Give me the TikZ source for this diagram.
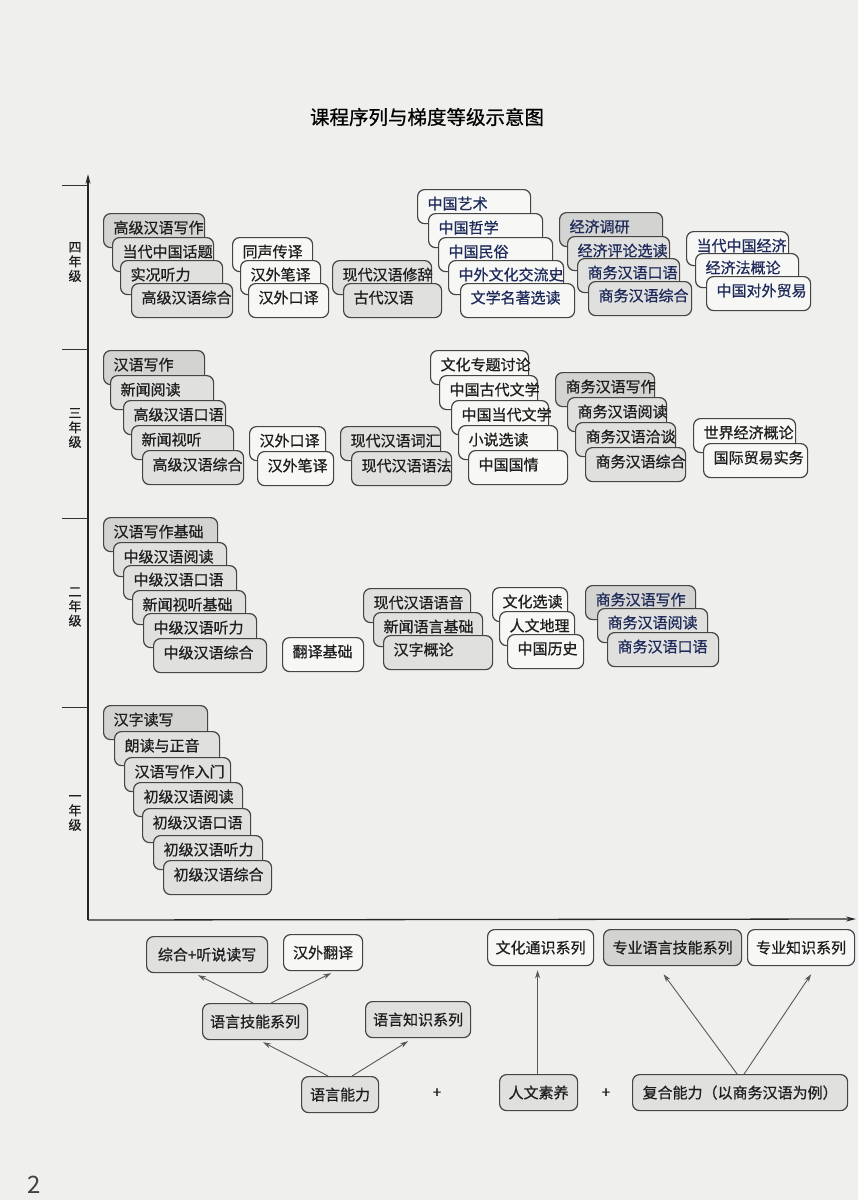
\documentclass[tikz,border=0pt]{standalone}
\usepackage{fontspec}
\setmainfont{Noto Sans CJK SC}
\newfontfamily\cjkbx[FakeBold=0.7]{Noto Sans CJK SC}
\usetikzlibrary{arrows.meta,calc}
\definecolor{bg}{HTML}{EFEFED}
\definecolor{gA}{HTML}{D3D3D1}
\definecolor{gB}{HTML}{E0E0DE}
\definecolor{wC}{HTML}{F7F7F5}
\definecolor{bd}{HTML}{454545}
\definecolor{tx}{HTML}{1E1E1E}
\definecolor{nv}{HTML}{1E2A5A}
\newcommand\bxfont{\cjkbx\fontsize{15pt}{18pt}\selectfont}
\newlength\bxtw
\newlength\bxpad
\newcommand\bxnode[6]{%
  \settowidth\bxtw{\bxfont #6}%
  \setlength\bxpad{\dimexpr(#4pt-\bxtw)/2\relax}%
  \ifdim\bxpad>10pt\relax\setlength\bxpad{10pt}\fi
  \node[course,#5,anchor=north west] (#1) at (#2,#3) {\hbox to #4pt{\hspace*{\bxpad}#6\hss}};%
}
\tikzset{
  course/.style={draw=bd, line width=1.2pt, rounded corners=7pt, inner xsep=0pt, inner ysep=0pt, minimum height=34pt, text height=10pt, text depth=4.6pt, font=\bxfont, text=tx},
  lgbox/.style={draw=bd, line width=1.2pt, rounded corners=7pt, inner xsep=0pt, inner ysep=0pt, minimum height=36pt, text height=14pt, text depth=2.6pt, font=\bxfont, text=tx, align=center, anchor=north west},
  fa/.style={fill=gA}, fb/.style={fill=gB}, fw/.style={fill=wC}, nvt/.style={text=nv},
  arr/.style={draw=black!65, line width=0.9pt, -{Stealth[length=8pt,width=5pt]}},
  axisline/.style={draw=black!85, line width=1.3pt, -{Stealth[length=10pt,width=5pt]}},
  sepline/.style={draw=black!80, line width=1pt},
  gradelbl/.style={font=\cjkbx\fontsize{13pt}{14.5pt}\selectfont, text=tx, align=center},
}
\begin{document}
\begin{tikzpicture}[x=1pt,y=-1pt]
\fill[bg] (0,0) rectangle (858,1200);
\useasboundingbox (0,0) rectangle (858,1200);

\node[font=\cjkbx\fontsize{19.5pt}{24pt}\selectfont, text=black] (title) at (427,117) {课程序列与梯度等级示意图};

% axes
\coordinate (origin) at (88,920);
\coordinate (ytop) at (88,174);
\coordinate (xend) at (856,919);
\draw[axisline] (origin) -- (ytop);
\draw[axisline] (origin) -- (xend);
\foreach \yy/\nm in {185/s1,349/s2,518/s3,707/s4}{
  \coordinate (\nm a) at (62,\yy);
  \coordinate (\nm b) at (88,\yy);
  \draw[sepline] (\nm a) -- (\nm b);
}
\node[gradelbl] (gr4) at (75,262) {四\\年\\级};
\node[gradelbl] (gr3) at (75,428) {三\\年\\级};
\node[gradelbl] (gr2) at (75,607) {二\\年\\级};
\node[gradelbl] (gr1) at (75,813) {一\\年\\级};

% ---------- grade 4
\bxnode{ga1}{103}{213}{101}{fa}{高级汉语写作}
\bxnode{ga2}{112}{237}{101}{fb}{当代中国话题}
\bxnode{ga3}{120}{260}{102}{fb}{实况听力}
\bxnode{ga4}{131}{283}{101}{fb}{高级汉语综合}
\bxnode{gb1}{232}{237}{80}{fw}{同声传译}
\bxnode{gb2}{240}{260}{80}{fw}{汉外笔译}
\bxnode{gb3}{248}{283}{80}{fw}{汉外口译}
\bxnode{gc1}{332}{260}{99}{fb}{现代汉语修辞}
\bxnode{gc2}{343}{283}{98}{fb}{古代汉语}
\bxnode{gd1}{417}{189}{113}{fw,nvt}{中国艺术}
\bxnode{gd2}{428}{213}{114}{fw,nvt}{中国哲学}
\bxnode{gd3}{438}{237}{114}{fw,nvt}{中国民俗}
\bxnode{gd4}{448}{260}{115}{fw,nvt}{中外文化交流史}
\bxnode{gd5}{460}{283}{114}{fw,nvt}{文学名著选读}
\bxnode{ge1}{559}{212}{103}{fa,nvt}{经济调研}
\bxnode{ge2}{567}{236}{102}{fb,nvt}{经济评论选读}
\bxnode{ge3}{577}{258}{102}{fb,nvt}{商务汉语口语}
\bxnode{ge4}{588}{281}{103}{fb,nvt}{商务汉语综合}
\bxnode{gf1}{686}{231}{102}{fw,nvt}{当代中国经济}
\bxnode{gf2}{695}{253}{103}{fw,nvt}{经济法概论}
\bxnode{gf3}{706}{276}{104}{fw,nvt}{中国对外贸易}

% ---------- grade 3
\bxnode{ha1}{103}{350}{101}{fa}{汉语写作}
\bxnode{ha2}{110}{375}{103}{fb}{新闻阅读}
\bxnode{ha3}{123}{400}{102}{fb}{高级汉语口语}
\bxnode{ha4}{131}{425}{102}{fb}{新闻视听}
\bxnode{ha5}{142}{450}{101}{fb}{高级汉语综合}
\bxnode{hb1}{249}{426}{76}{fw}{汉外口译}
\bxnode{hb2}{257}{451}{76}{fw}{汉外笔译}
\bxnode{hc1}{340}{426}{100}{fb}{现代汉语词汇}
\bxnode{hc2}{351}{451}{100}{fb}{现代汉语语法}
\bxnode{hd1}{430}{350}{98}{fw}{文化专题讨论}
\bxnode{hd2}{439}{375}{98}{fw}{中国古代文学}
\bxnode{hd3}{451}{400}{97}{fw}{中国当代文学}
\bxnode{hd4}{458}{425}{99}{fw}{小说选读}
\bxnode{hd5}{468}{450}{99}{fw}{中国国情}
\bxnode{he1}{555}{372}{99}{fa}{商务汉语写作}
\bxnode{he2}{567}{397}{99}{fb}{商务汉语阅读}
\bxnode{he3}{575}{422}{100}{fb}{商务汉语洽谈}
\bxnode{he4}{585}{447}{100}{fb}{商务汉语综合}
\bxnode{hf1}{693}{418}{102}{fw}{世界经济概论}
\bxnode{hf2}{703}{443}{104}{fw}{国际贸易实务}

% ---------- grade 2
\bxnode{ia1}{103}{517}{114}{fa}{汉语写作基础}
\bxnode{ia2}{113}{542}{113}{fb}{中级汉语阅读}
\bxnode{ia3}{123}{565}{113}{fb}{中级汉语口语}
\bxnode{ia4}{132}{590}{113}{fb}{新闻视听基础}
\bxnode{ia5}{143}{613}{113}{fb}{中级汉语听力}
\bxnode{ia6}{153}{638}{113}{fb}{中级汉语综合}
\bxnode{ib1}{282}{637}{81}{fw}{翻译基础}
\bxnode{ic1}{363}{588}{107}{fb}{现代汉语语音}
\bxnode{ic2}{373}{612}{109}{fb}{新闻语言基础}
\bxnode{ic3}{383}{635}{109}{fb}{汉字概论}
\bxnode{id1}{492}{587}{75}{fw}{文化选读}
\bxnode{id2}{499}{611}{75}{fw}{人文地理}
\bxnode{id3}{507}{634}{76}{fw}{中国历史}
\bxnode{ie1}{585}{585}{110}{fa,nvt}{商务汉语写作}
\bxnode{ie2}{597}{608}{110}{fb,nvt}{商务汉语阅读}
\bxnode{ie3}{607}{632}{111}{fb,nvt}{商务汉语口语}

% ---------- grade 1
\bxnode{ja1}{103}{705}{104}{fa}{汉字读写}
\bxnode{ja2}{114}{731}{105}{fb}{朗读与正音}
\bxnode{ja3}{124}{757}{106}{fb}{汉语写作入门}
\bxnode{ja4}{133}{782}{109}{fb}{初级汉语阅读}
\bxnode{ja5}{142}{808}{108}{fb}{初级汉语口语}
\bxnode{ja6}{153}{835}{109}{fb}{初级汉语听力}
\bxnode{ja7}{163}{860}{108}{fb}{初级汉语综合}

% ---------- legend
\node[lgbox,fb,minimum width=121pt] (lg1) at (146,936) {综合+听说读写};
\node[lgbox,fw,minimum width=79pt] (lg2) at (283,934) {汉外翻译};
\node[lgbox,fb,minimum width=105pt] (lg3) at (202,1003) {语言技能系列};
\node[lgbox,fb,minimum width=105pt] (lg4) at (365,1001) {语言知识系列};
\node[lgbox,fb,minimum width=77pt] (lg5) at (301,1076) {语言能力};
\node[lgbox,fw,minimum width=106pt] (lg6) at (487,929) {文化通识系列};
\node[lgbox,fa,minimum width=138pt] (lg7) at (603,929) {专业语言技能系列};
\node[lgbox,fw,minimum width=107pt] (lg8) at (747,929) {专业知识系列};
\node[lgbox,fb,minimum width=78pt] (lg9) at (499,1074) {人文素养};
\node[lgbox,fb,minimum width=215pt] (lg10) at (632,1074) {复合能力（以商务汉语为例）};
\node[font=\bxfont, text=tx] (plus1) at (437,1093) {+};
\node[font=\bxfont, text=tx] (plus2) at (606,1093) {+};

\draw[arr] ($(lg5.north)+(-12,0)$) -- ($(lg3.south)+(8,2)$);
\draw[arr] ($(lg5.north)+(12,0)$) -- ($(lg4.south)+(-10,3)$);
\draw[arr] ($(lg3.north)+(-2,0)$) -- ($(lg1.south)+(-9,2)$);
\draw[arr] ($(lg3.north)+(16,0)$) -- ($(lg2.south)+(8,2)$);
\draw[arr] ($(lg9.north)+(-1,0)$) -- ($(lg6.south)+(-3,4)$);
\draw[arr] ($(lg10.north)+(-3,0)$) -- ($(lg7.south)+(-9,8)$);
\draw[arr] ($(lg10.north)+(4,0)$) -- ($(lg8.south)+(10,8)$);

\node[font=\fontsize{24pt}{28pt}\selectfont, text=black!75] (pg) at (34,1185) {2};
\end{tikzpicture}
\end{document}
